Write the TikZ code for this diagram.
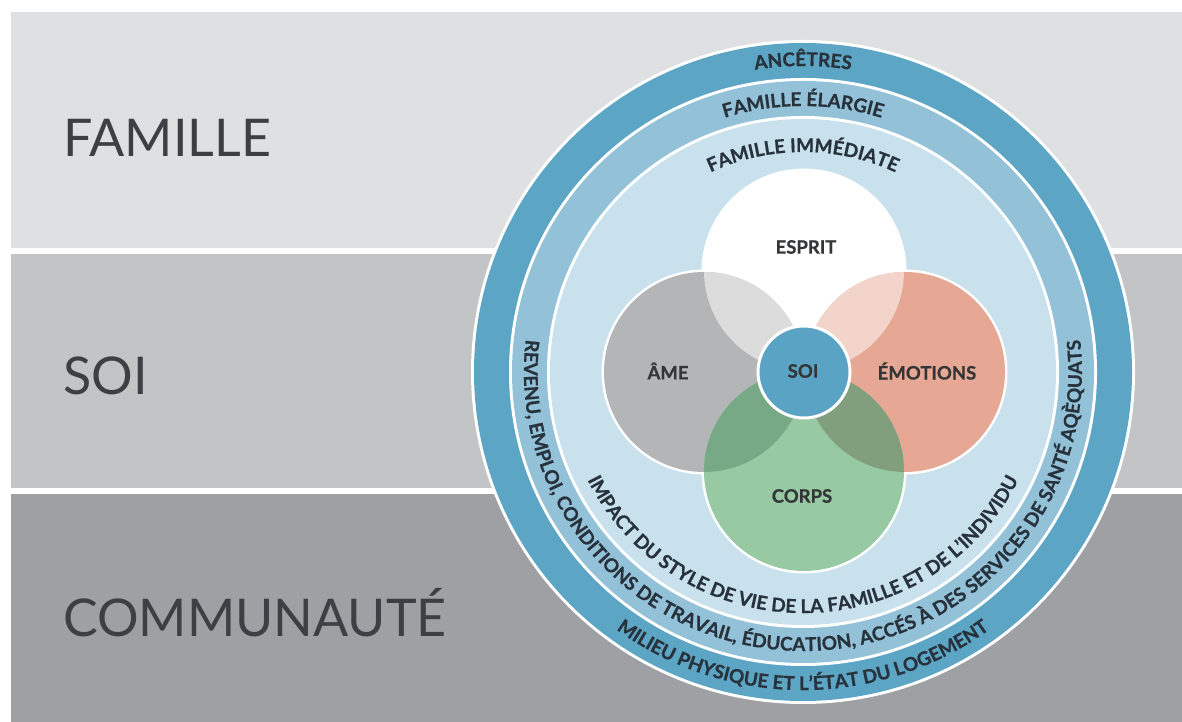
\documentclass[tikz,border=0pt]{standalone}
\usepackage{fontspec}
\setmainfont{Lato}
\newfontfamily\heavyfont{Lato}[BoldFeatures={FakeBold=0.7}]
\usetikzlibrary{decorations.text,calc}
\definecolor{band1}{HTML}{DFE0E2}
\definecolor{band2}{HTML}{C3C4C6}
\definecolor{band3}{HTML}{9EA0A3}
\definecolor{bigtxt}{HTML}{3E3F44}
\definecolor{ringdark}{HTML}{5CA5C4}
\definecolor{ringmid}{HTML}{93C2D8}
\definecolor{ringlight}{HTML}{C8E1EC}
\definecolor{ringtxt}{HTML}{27323D}
\definecolor{ame}{HTML}{B4B5B7}
\definecolor{emo}{HTML}{E6A895}
\definecolor{corps}{HTML}{97CAA3}
\definecolor{espame}{HTML}{DCDCDD}
\definecolor{espemo}{HTML}{F2D4CB}
\definecolor{amecorps}{HTML}{77A987}
\definecolor{emocorps}{HTML}{819E7D}
\definecolor{soi}{HTML}{5BA3C4}
\definecolor{venntxt}{HTML}{343537}
\newcommand\ringfont{\heavyfont\bfseries\fontsize{19}{21}\selectfont\color{ringtxt}}
% #1 radius, #2 start angle, #3 end angle, #4 text
\newcommand\ringtext[4]{%
  \path[decorate,decoration={text along path,text align=center,text={|\ringfont|#4}}]
    ($(C)+(#2:#1pt)$) arc[start angle=#2,end angle=#3,radius=#1pt];}
\begin{document}
\begin{tikzpicture}[x=1pt,y=1pt,
  biglabel/.style={anchor=base west,inner sep=0pt,text=bigtxt,font=\fontsize{52}{56}\selectfont},
  vennlabel/.style={text=venntxt,inner sep=0pt,font=\heavyfont\bfseries\fontsize{18.5}{20}\selectfont},
]
\useasboundingbox (0,0) rectangle (1182,722);
\fill[white] (0,0) rectangle (1182,722);
% bands
\fill[band1] (11,474) rectangle (1182,710);
\fill[band2] (11,234) rectangle (1182,468);
\fill[band3] (11,0) rectangle (1182,228);
\node[biglabel] (lfam) at (63,565) {FAMILLE};
\node[biglabel] (lsoi) at (63,327) {SOI};
\node[biglabel] (lcom) at (63,85) {COMMUNAUTÉ};
% rings
\coordinate (C) at (803,350);
\fill[white] (C) circle[radius=332pt];
\fill[ringdark] (C) circle[radius=329pt];
\fill[white] (C) circle[radius=294pt];
\fill[ringmid] (C) circle[radius=291pt];
\fill[white] (C) circle[radius=256pt];
\fill[ringlight] (C) circle[radius=253pt];
% ring texts
\ringtext{306}{120}{60}{ANCÊTRES}
\ringtext{266}{130}{50}{FAMILLE ÉLARGIE}
\ringtext{220}{140}{40}{FAMILLE IMMÉDIATE}
\ringtext{318}{195}{345}{MILIEU PHYSIQUE ET L’ÉTAT DU LOGEMENT}
\ringtext{279}{165}{375}{REVENU, EMPLOI, CONDITIONS DE TRAVAIL, ÉDUCATION, ACCÉS À DES SERVICES DE SANTÉ AQÈQUATS}
\ringtext{241}{190}{350}{IMPACT DU STYLE DE VIE DE LA FAMILLE ET DE L’INDIVIDU}
% venn
\coordinate (V) at (804,350);
\coordinate (Esp) at (804,451);
\coordinate (Ame) at (704,350);
\coordinate (Emo) at (905,350);
\coordinate (Cor) at (804,251);
\foreach \c in {Esp,Ame,Emo,Cor} \draw[white,line width=5pt] (\c) circle[radius=100pt];
\fill[white] (Esp) circle[radius=100pt];
\fill[ame] (Ame) circle[radius=100pt];
\fill[emo] (Emo) circle[radius=100pt];
\fill[corps] (Cor) circle[radius=100pt];
\begin{scope}
  \clip (Esp) circle[radius=100pt];
  \fill[espame] (Ame) circle[radius=100pt];
  \fill[espemo] (Emo) circle[radius=100pt];
\end{scope}
\begin{scope}
  \clip (Cor) circle[radius=100pt];
  \fill[amecorps] (Ame) circle[radius=100pt];
  \fill[emocorps] (Emo) circle[radius=100pt];
\end{scope}
\fill[soi,draw=white,line width=3pt] (V) circle[radius=46pt];
\node[vennlabel] (nesp) at (806,475) {ESPRIT};
\node[vennlabel] (name) at (668,351) {ÂME};
\node[vennlabel] (nsoi) at (803,351) {SOI};
\node[vennlabel] (nemo) at (927,351) {ÉMOTIONS};
\node[vennlabel] (ncor) at (802,226) {CORPS};
\end{tikzpicture}
\end{document}
